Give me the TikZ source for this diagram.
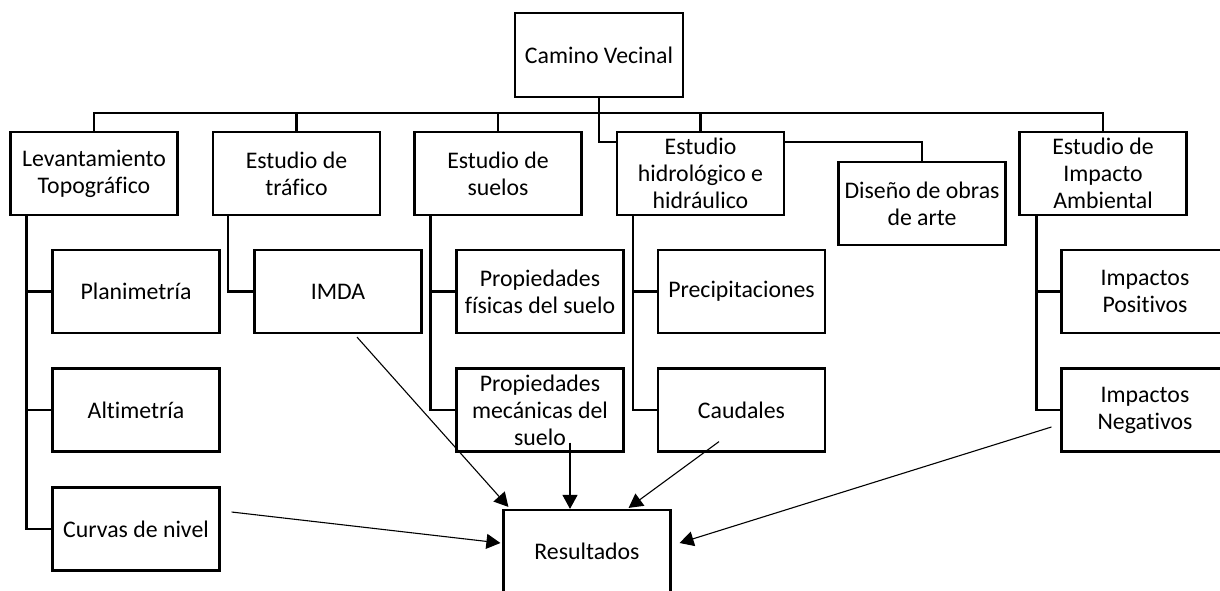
\documentclass[tikz,border=0pt]{standalone}
\usepackage{fontspec}
\setmainfont{Carlito}[Ligatures={NoCommon}]
\usetikzlibrary{calc,arrows.meta}
\begin{document}
\begin{tikzpicture}[x=0.5pt,y=-0.5pt,
  box/.style={draw,line width=1.1pt,minimum width=83.5pt,minimum height=41.5pt,inner sep=1pt,align=center,
    font=\fontsize{11.9pt}{13.5pt}\selectfont},
  tree/.style={line width=1.2pt},
  arr/.style={line width=0.55pt,-{Triangle[length=7pt,width=7.5pt]}}]
\useasboundingbox (0,0) rectangle (1220,590);
\clip (0,0) rectangle (1220,590);
\node[box,minimum width=84pt,minimum height=42pt] (cam) at (599,55) {Camino Vecinal};
\node[box] (lev) at (94,173.5) {Levantamiento\\Topográfico};
\node[box] (tra) at (296.5,173.5) {Estudio de\\tráfico};
\node[box] (sue) at (498,173.5) {Estudio de\\suelos};
\node[box] (hid) at (700.5,173.5) {Estudio\\hidrológico e\\hidráulico};
\node[box] (dis) at (922,203.5) {Diseño de obras\\de arte};
\node[box] (imp) at (1103,173.5) {Estudio de\\Impacto\\Ambiental};
\node[box] (plan) at (136,291.5) {Planimetría};
\node[box] (alt) at (136,410) {Altimetría};
\node[box] (cur) at (136,529) {Curvas de nivel};
\node[box] (imda) at (338,291.5) {IMDA};
\node[box] (pfis) at (540,291.5) {Propiedades\\físicas del suelo};
\node[box] (pmec) at (540,410) {Propiedades\\mecánicas del\\suelo};
\node[box] (prec) at (741.5,291.5) {Precipitaciones};
\node[box] (cau) at (741.5,410) {Caudales};
\node[box] (ipos) at (1145,291.5) {Impactos\\Positivos};
\node[box] (ineg) at (1145,410) {Impactos\\Negativos};
\node[box] (res) at (587,551.5) {Resultados};
% tree connectors
\draw[tree] (cam.south) |- ($(hid.north west)+(0,11)$);
\draw[tree] (lev.north) -- ++(0,-18) -| (imp.north);
\draw[tree] (tra.north) -- ++(0,-18);
\draw[tree] (sue.north) -- ++(0,-18);
\draw[tree] (hid.north) -- ++(0,-18);
\draw[tree] ($(hid.north east)+(0,11)$) -| (dis.north);
\draw[tree] ($(lev.south west)+(17,0)$) |- (cur.west);
\draw[tree] (plan.west) -- ++(-24,0);
\draw[tree] (alt.west) -- ++(-24,0);
\draw[tree] ($(tra.south west)+(16,0)$) |- (imda.west);
\draw[tree] ($(sue.south west)+(17,0)$) |- (pmec.west);
\draw[tree] (pfis.west) -- ++(-25,0);
\draw[tree] ($(hid.south west)+(17,0)$) |- (cau.west);
\draw[tree] (prec.west) -- ++(-24,0);
\draw[tree] ($(imp.south west)+(18,0)$) |- (ineg.west);
\draw[tree] (ipos.west) -- ++(-24,0);
% arrows to Resultados
\draw[arr] ($(imda.south)+(19,3)$) -- ($(res.north west)+(6,-2)$);
\draw[arr] ($(pmec.south)+(30,-10)$) -- ($(res.north)+(-17,0)$);
\draw[arr] ($(cau.south)+(-22.5,-11)$) -- ($(res.north east)+(-43,-1)$);
\draw[arr] ($(cur.east)+(11,-17)$) -- ($(res.west)+(-2,-8.5)$);
\draw[arr] ($(ineg.west)+(-9,17)$) -- ($(res.east)+(8,-8.5)$);
\end{tikzpicture}
\end{document}
